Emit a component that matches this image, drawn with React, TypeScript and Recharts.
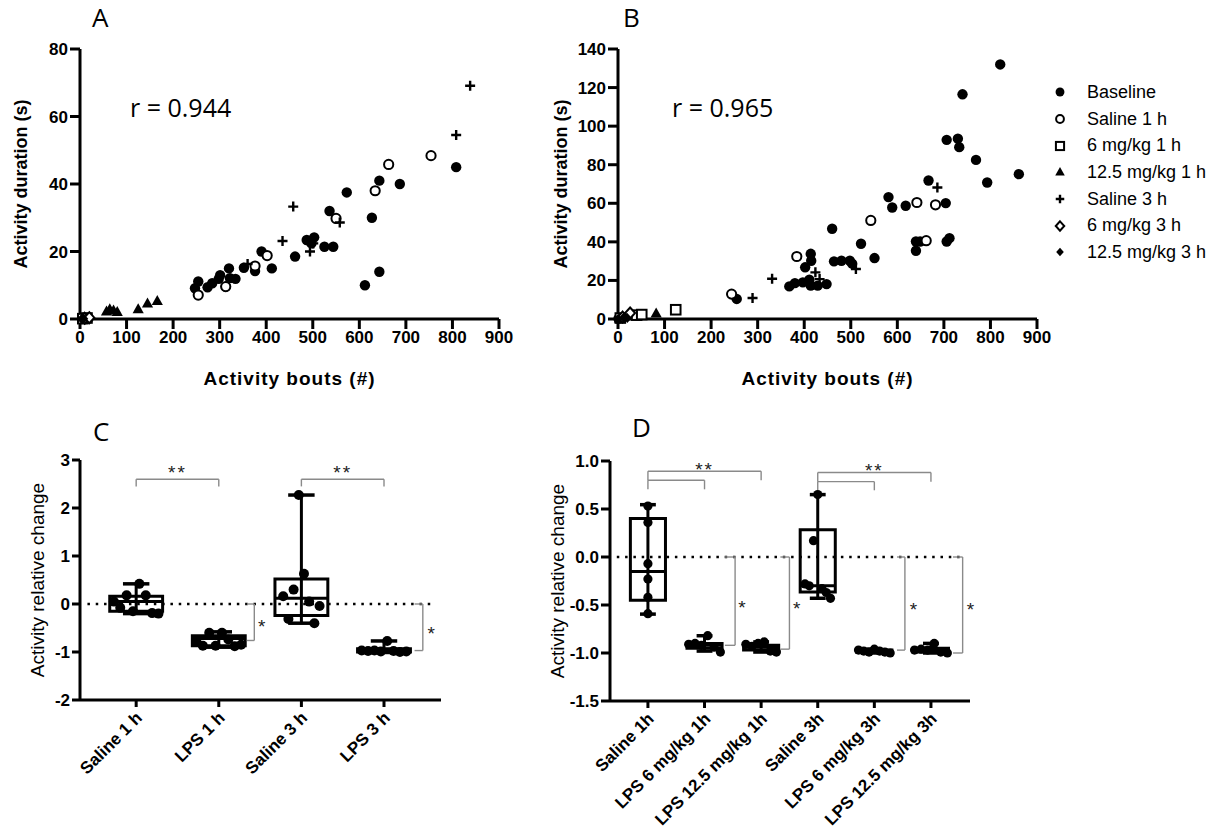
import {
  ScatterChart,
  Scatter,
  XAxis,
  YAxis,
  ReferenceLine,
  ReferenceArea,
  ReferenceDot,
  Legend,
  Label,
} from 'recharts'

type Pair = [number, number]

const FONT = '"Liberation Sans", Arial, sans-serif'
const PANEL_FONT = '"Open Sans", "Noto Sans", sans-serif'
const GREY = '#8a8a8a'

// series shown in A and B (and in the legend)
const groupNames = ['Baseline', 'Saline 1 h', '6 mg/kg 1 h', '12.5 mg/kg 1 h', 'Saline 3 h', '6 mg/kg 3 h', '12.5 mg/kg 3 h']
const groupMarks = ['dot', 'ring', 'square', 'triangle', 'plus', 'diamondOpen', 'diamond']

// panel A: [activity bouts, activity duration]
const aBaseline: Pair[] = [
  [4, 0], [11, 0], [18, 0.2], [247, 9.1], [254, 11.1], [274, 9.4], [284, 10.6], [298, 11.9],
  [301, 13], [313, 9.6], [320, 15], [322, 12.1], [334, 11.9], [352, 15.2], [376, 14.2], [390, 20],
  [412, 15], [462, 18.5], [487, 23.4], [497, 22.4], [503, 24.2], [525, 21.4], [544, 21.4], [536, 32],
  [573, 37.5], [612, 10], [627, 30], [643, 14], [643, 41], [687, 40], [808, 45],
]
const aSaline1: Pair[] = [[254, 7.1], [313, 9.6], [376, 15.7], [402, 18.8], [550, 29.8], [634, 38], [663, 45.8], [754, 48.4]]
const aMg6h1: Pair[] = [[6, 0.1], [15, 0.3]]
const aMg12h1: Pair[] = [[57, 2.2], [64, 2.9], [72, 2.5], [80, 2.1], [125, 2.9], [145, 4.6], [166, 5.3]]
const aSaline3: Pair[] = [[360, 16.3], [435, 23.1], [458, 33.3], [494, 20], [501, 22.4], [558, 28.6], [808, 54.5], [838, 69.1]]
const aMg6h3: Pair[] = [[10, 0.2], [20, 0.4]]
const aMg12h3: Pair[] = [[3, 0], [8, 0.1]]

// panel B
const bBaseline: Pair[] = [
  [1, 0.2], [8, 0.5], [255, 10.4], [368, 16.9], [380, 18.6], [397, 19], [411, 20.4], [414, 17.3],
  [429, 17.3], [448, 18.1], [402, 26.8], [414, 33.8], [415, 30.2], [460, 46.8], [464, 29.9], [480, 30.2],
  [498, 30.2], [503, 28.7], [522, 39], [551, 31.6], [581, 63.2], [589, 57.8], [618, 58.7], [640, 40.2],
  [649, 40.2], [640, 35.4], [667, 71.8], [704, 60.1], [706, 40.2], [712, 41.9], [706, 92.9], [730, 93.5],
  [733, 89.1], [740, 116.5], [769, 82.5], [793, 70.8], [821, 132], [861, 75.1],
]
const bSaline1: Pair[] = [[244, 12.9], [384, 32.4], [543, 51.1], [642, 60.4], [662, 40.6], [682, 59.2]]
const bMg6h1: Pair[] = [[5, 0.5], [40, 2], [51, 2.3], [124, 4.8]]
const bMg12h1: Pair[] = [[3, 0.3], [82, 2.8]]
const bSaline3: Pair[] = [[289, 10.9], [331, 20.9], [424, 24.2], [433, 20.7], [511, 25.9], [686, 68.2]]
const bMg6h3: Pair[] = [[10, 1], [26, 3.1]]
const bMg12h3: Pair[] = [[0, 0], [12, 0.8], [20, 0.5]]

const aSeries = [aBaseline, aSaline1, aMg6h1, aMg12h1, aSaline3, aMg6h3, aMg12h3]
const bSeries = [bBaseline, bSaline1, bMg6h1, bMg12h1, bSaline3, bMg6h3, bMg12h3]

const boutTicks = [0, 100, 200, 300, 400, 500, 600, 700, 800, 900]
const aYTicks = [0, 20, 40, 60, 80]
const bYTicks = [0, 20, 40, 60, 80, 100, 120, 140]

// panel C: relative change per group
const cCategories = ['Saline 1 h', 'LPS 1 h', 'Saline 3 h', 'LPS 3 h']
const cValues = [
  [0.05, -0.08, 0.18, -0.15, 0.42, 0.18, -0.19, -0.2],
  [-0.78, -0.87, -0.6, -0.87, -0.6, -0.74, -0.88, -0.85],
  [0.16, -0.31, 0.3, 2.27, 0.63, 0.05, -0.4, -0.04],
  [-0.97, -0.98, -0.97, -0.99, -0.77, -0.98, -1.0, -0.99],
]
const cMin = [-0.2, -0.9, -0.4, -1.01]
const cQ1 = [-0.15, -0.87, -0.24, -1.0]
const cMedian = [0.05, -0.72, 0.12, -0.97]
const cQ3 = [0.16, -0.66, 0.52, -0.93]
const cMax = [0.42, -0.58, 2.27, -0.77]
const cYTicks = [-2, -1, 0, 1, 2, 3]

// panel D
const dCategories = ['Saline 1h', 'LPS 6 mg/kg 1h', 'LPS 12.5 mg/kg 1h', 'Saline 3h', 'LPS 6 mg/kg 3h', 'LPS 12.5 mg/kg 3h']
const dValues = [
  [0.53, 0.36, -0.07, -0.23, -0.42, -0.59],
  [-0.91, -0.9, -0.92, -0.82, -0.94, -0.99],
  [-0.91, -0.93, -0.9, -0.885, -0.98, -0.99],
  [-0.28, -0.3, 0.17, 0.65, -0.33, -0.37, -0.43],
  [-0.97, -0.98, -0.99, -0.96, -0.98, -0.99, -1.0],
  [-0.97, -0.96, -0.97, -0.9, -0.99, -1.0],
]
const dMin = [-0.595, -0.98, -0.99, -0.43, -1.0, -1.0]
const dQ1 = [-0.45, -0.95, -0.97, -0.365, -0.99, -0.99]
const dMedian = [-0.15, -0.92, -0.94, -0.3, -0.98, -0.97]
const dQ3 = [0.4, -0.9, -0.92, 0.285, -0.97, -0.95]
const dMax = [0.545, -0.82, -0.885, 0.65, -0.96, -0.9]
const dYTicks = [-1.5, -1, -0.5, 0, 0.5, 1]

// significance annotations
const cPairs = [
  { from: 0, to: 1, y: 2.6, leftEnd: 2.45, rightEnd: 2.45 },
  { from: 2, to: 3, y: 2.6, leftEnd: 2.45, rightEnd: 2.45 },
]
const cSides = [
  { x1: 1.34, x2: 1.43, bottom: -0.76 },
  { x1: 3.37, x2: 3.47, bottom: -0.97 },
]
const cStars = [
  { x: 0.5, y: 2.74, text: '**' },
  { x: 2.5, y: 2.74, text: '**' },
  { x: 1.52, y: -0.47, text: '*' },
  { x: 3.57, y: -0.61, text: '*' },
]
const dPairs = [
  { from: 0, to: 2, y: 0.893, leftEnd: 0.8, rightEnd: 0.8 },
  { from: 0, to: 1, y: 0.8, leftEnd: 0.705, rightEnd: 0.705 },
  { from: 3, to: 5, y: 0.88, leftEnd: 0.785, rightEnd: 0.785 },
  { from: 3, to: 4, y: 0.785, leftEnd: 0.695, rightEnd: 0.695 },
]
const dSides = [
  { x1: 1.36, x2: 1.54, bottom: -0.92 },
  { x1: 2.34, x2: 2.5, bottom: -0.96 },
  { x1: 4.4, x2: 4.54, bottom: -0.97 },
  { x1: 5.39, x2: 5.56, bottom: -1.0 },
]
const dStars = [
  { x: 1.0, y: 0.915, text: '**' },
  { x: 4.0, y: 0.905, text: '**' },
  { x: 1.66, y: -0.52, text: '*' },
  { x: 2.63, y: -0.53, text: '*' },
  { x: 4.69, y: -0.54, text: '*' },
  { x: 5.7, y: -0.54, text: '*' },
]

const cSpread = [0.27, 0.27, 0.22, 0.27]
const dSpread = [0, 0.28, 0.27, 0.225, 0.28, 0.29]

const axisLine = { stroke: '#000', strokeWidth: 3 }
const tickStyle = { fill: '#000', fontSize: 17, fontWeight: 700, fontFamily: FONT }

function marker(kind: string, cx: number, cy: number, k = 1) {
  switch (kind) {
    case 'dot':
      return <circle cx={cx} cy={cy} r={5.2 * k} fill="#000" />
    case 'ring':
      return <circle cx={cx} cy={cy} r={4.6 * k} fill="#fff" stroke="#000" strokeWidth={2} />
    case 'square':
      return <rect x={cx - 4.8 * k} y={cy - 4.8 * k} width={9.6 * k} height={9.6 * k} fill="#fff" stroke="#000" strokeWidth={2} />
    case 'triangle':
      return <polygon points={`${cx},${cy - 6 * k} ${cx - 5.6 * k},${cy + 4 * k} ${cx + 5.6 * k},${cy + 4 * k}`} fill="#000" />
    case 'plus':
      return <path d={`M${cx - 5 * k},${cy}H${cx + 5 * k}M${cx},${cy - 5 * k}V${cy + 5 * k}`} stroke="#000" strokeWidth={2.4} />
    case 'diamondOpen':
      return <polygon points={`${cx},${cy - 5.5 * k} ${cx + 5 * k},${cy} ${cx},${cy + 5.5 * k} ${cx - 5 * k},${cy}`} fill="#fff" stroke="#000" strokeWidth={2} />
    default:
      return <polygon points={`${cx},${cy - 5 * k} ${cx + 4.5 * k},${cy} ${cx},${cy + 5 * k} ${cx - 4.5 * k},${cy}`} fill="#000" />
  }
}

const shapeFor = (kind: string) => (p: any) => marker(kind, p.cx, p.cy)
const boxDot = (r: number) => (p: any) => <circle cx={p.cx} cy={p.cy} r={r} fill="#000" />

const toPoints = (arr: Pair[]) => arr.map(([x, y]) => ({ x, y }))

function jittered(values: number[][], spread: number[]) {
  const out: { x: number; y: number }[] = []
  values.forEach((vals, i) => {
    const n = vals.length
    vals.forEach((v, j) => {
      const off = n > 1 ? (j / (n - 1) - 0.5) * 2 * spread[i] : 0
      out.push({ x: i + off, y: v })
    })
  })
  return out
}

const vTitle = (text: string, x: number, size: number, weight: number) => (props: any) => {
  const vb = props.viewBox || { y: 0, height: 0 }
  const cy = vb.y + vb.height / 2
  return (
    <text x={x} y={cy} transform={`rotate(-90 ${x} ${cy})`} textAnchor="middle" dominantBaseline="central"
      fontSize={size} fontWeight={weight} fontFamily={FONT} fill="#000">
      {text}
    </text>
  )
}

const hTitle = (text: string, dy: number) => (props: any) => {
  const vb = props.viewBox || { x: 0, y: 0, width: 0 }
  return (
    <text x={vb.x + vb.width / 2} y={vb.y + dy} textAnchor="middle" fontSize={19} fontWeight={700}
      letterSpacing={1} fontFamily={FONT} fill="#000">
      {text}
    </text>
  )
}

const rotTick = (labels: string[]) => (props: any) => {
  const { x, y, payload } = props
  return (
    <g transform={`translate(${x + 7},${y + 10})`}>
      <text x={0} y={0} textAnchor="end" transform="rotate(-45)" fontSize={17} fontWeight={700} fontFamily={FONT} fill="#000">
        {labels[payload.value]}
      </text>
    </g>
  )
}

function boxPlot(i: number, min: number, q1: number, med: number, q3: number, max: number, half: number, cap: number) {
  const k = `box${i}`
  return [
    <ReferenceLine key={k + 'w'} segment={[{ x: i, y: min }, { x: i, y: max }]} stroke="#000" strokeWidth={3} />,
    <ReferenceArea key={k + 'b'} x1={i - half} x2={i + half} y1={q1} y2={q3} fill="#fff" fillOpacity={1} stroke="#000" strokeWidth={3} />,
    <ReferenceLine key={k + 'm'} segment={[{ x: i - half, y: med }, { x: i + half, y: med }]} stroke="#000" strokeWidth={3} />,
    <ReferenceLine key={k + 'c1'} segment={[{ x: i - cap, y: max }, { x: i + cap, y: max }]} stroke="#000" strokeWidth={3.5} />,
    <ReferenceLine key={k + 'c2'} segment={[{ x: i - cap, y: min }, { x: i + cap, y: min }]} stroke="#000" strokeWidth={3.5} />,
  ]
}

function pairBracket(b: { from: number; to: number; y: number; leftEnd: number; rightEnd: number }, key: string) {
  return [
    <ReferenceLine key={key + 'h'} segment={[{ x: b.from, y: b.y }, { x: b.to, y: b.y }]} stroke={GREY} strokeWidth={1.4} />,
    <ReferenceLine key={key + 'l'} segment={[{ x: b.from, y: b.y }, { x: b.from, y: b.leftEnd }]} stroke={GREY} strokeWidth={1.4} />,
    <ReferenceLine key={key + 'r'} segment={[{ x: b.to, y: b.y }, { x: b.to, y: b.rightEnd }]} stroke={GREY} strokeWidth={1.4} />,
  ]
}

function sideBracket(b: { x1: number; x2: number; bottom: number }, key: string) {
  return [
    <ReferenceLine key={key + 't'} segment={[{ x: b.x1, y: 0 }, { x: b.x2, y: 0 }]} stroke={GREY} strokeWidth={1.4} />,
    <ReferenceLine key={key + 'v'} segment={[{ x: b.x2, y: 0 }, { x: b.x2, y: b.bottom }]} stroke={GREY} strokeWidth={1.4} />,
    <ReferenceLine key={key + 'b'} segment={[{ x: b.x1, y: b.bottom }, { x: b.x2, y: b.bottom }]} stroke={GREY} strokeWidth={1.4} />,
  ]
}

function stars(list: { x: number; y: number; text: string }[], key: string) {
  return list.map((s, i) => (
    <ReferenceDot key={key + i} x={s.x} y={s.y} r={0} fill="none" stroke="none" ifOverflow="visible"
      label={{ value: s.text, position: 'center', fill: '#222', fontSize: 19, fontFamily: FONT, letterSpacing: s.text.length > 1 ? 2 : 0 }} />
  ))
}

const legendContent = () => (
  <div style={{ fontFamily: FONT, fontSize: 18, color: '#000' }}>
    {groupNames.map((g, i) => (
      <div key={g} style={{ display: 'flex', alignItems: 'center', height: 26.7 }}>
        <svg width={20} height={20} style={{ marginRight: 17 }}>
          {marker(groupMarks[i], 10, 10, 0.85)}
        </svg>
        <span>{g}</span>
      </div>
    ))}
  </div>
)

function BoutsChart({ series, yTicks, yMax, width, yWidth, right, legend }: any) {
  return (
    <ScatterChart width={width} height={400} margin={{ top: 49, right, bottom: 0, left: 0 }}>
      <XAxis type="number" dataKey="x" domain={[0, 900]} ticks={boutTicks} interval={0} height={81}
        tickSize={10} axisLine={axisLine} tickLine={axisLine} tick={tickStyle}>
        <Label content={hTitle('Activity bouts (#)', 66)} />
      </XAxis>
      <YAxis type="number" dataKey="y" domain={[0, yMax]} ticks={yTicks} interval={0} width={yWidth}
        tickSize={10} axisLine={axisLine} tickLine={axisLine} tick={tickStyle}>
        <Label content={vTitle('Activity duration (s)', 21, 18, 700)} />
      </YAxis>
      {series.map((s: Pair[], i: number) => (
        <Scatter key={groupNames[i]} name={groupNames[i]} data={toPoints(s)} shape={shapeFor(groupMarks[i])} isAnimationActive={false} />
      ))}
      {legend && (
        <Legend layout="vertical" align="center" verticalAlign="middle" content={legendContent}
          wrapperStyle={{ left: 510, top: 79, width: 176 }} />
      )}
    </ScatterChart>
  )
}

export default function App() {
  const cPoints = jittered(cValues, cSpread)
  const dPoints = jittered(dValues, dSpread)
  const panelText = { fontFamily: PANEL_FONT, fill: '#000' }
  return (
    <div style={{ position: 'absolute', left: 0, top: 0, width: 1226, height: 837, background: '#fff' }}>
      <div style={{ position: 'absolute', left: 0, top: 0 }}>
        <BoutsChart series={aSeries} yTicks={aYTicks} yMax={80} width={520} yWidth={80} right={21} />
      </div>
      <div style={{ position: 'absolute', left: 540, top: 0 }}>
        <BoutsChart series={bSeries} yTicks={bYTicks} yMax={140} width={686} yWidth={78} right={189} legend />
      </div>

      <div style={{ position: 'absolute', left: 0, top: 420 }}>
        <ScatterChart width={460} height={417} margin={{ top: 40, right: 19, bottom: 0, left: 0 }}>
          <XAxis type="number" dataKey="x" domain={[-0.68, 3.69]} ticks={[0, 1, 2, 3]} interval={0} height={137}
            tickSize={7} axisLine={axisLine} tickLine={axisLine} tick={rotTick(cCategories)} />
          <YAxis type="number" dataKey="y" domain={[-2, 3]} ticks={cYTicks} interval={0} width={80}
            tickSize={8} axisLine={axisLine} tickLine={axisLine} tick={tickStyle}>
            <Label content={vTitle('Activity relative change', 37, 19, 400)} />
          </YAxis>
          <ReferenceLine segment={[{ x: -0.59, y: 0 }, { x: 3.59, y: 0 }]} stroke="#000" strokeWidth={2.5} strokeDasharray="2.5 5.8" />
          {cCategories.map((_, i) => boxPlot(i, cMin[i], cQ1[i], cMedian[i], cQ3[i], cMax[i], 0.32, 0.16))}
          {cPairs.map((b, i) => pairBracket(b, 'cp' + i))}
          {cSides.map((b, i) => sideBracket(b, 'cs' + i))}
          {stars(cStars, 'cst')}
          <Scatter data={cPoints} shape={boxDot(5)} isAnimationActive={false} />
        </ScatterChart>
      </div>

      <div style={{ position: 'absolute', left: 540, top: 420 }}>
        <ScatterChart width={440} height={417} margin={{ top: 41, right: 10, bottom: 0, left: 0 }}>
          <XAxis type="number" dataKey="x" domain={[-0.67, 5.69]} ticks={[0, 1, 2, 3, 4, 5]} interval={0} height={136}
            tickSize={7} axisLine={axisLine} tickLine={axisLine} tick={rotTick(dCategories)} />
          <YAxis type="number" dataKey="y" domain={[-1.5, 1]} ticks={dYTicks} interval={0} width={70}
            tickSize={9} axisLine={axisLine} tickLine={axisLine} tick={tickStyle} tickFormatter={(v: number) => v.toFixed(1)}>
            <Label content={vTitle('Activity relative change', 17, 19, 400)} />
          </YAxis>
          <ReferenceLine segment={[{ x: -0.55, y: 0 }, { x: 5.56, y: 0 }]} stroke="#000" strokeWidth={2.5} strokeDasharray="2.5 5.8" />
          {dCategories.map((_, i) => boxPlot(i, dMin[i], dQ1[i], dMedian[i], dQ3[i], dMax[i], 0.31, 0.14))}
          {dPairs.map((b, i) => pairBracket(b, 'dp' + i))}
          {dSides.map((b, i) => sideBracket(b, 'ds' + i))}
          {stars(dStars, 'dst')}
          <Scatter data={dPoints} shape={boxDot(4.6)} isAnimationActive={false} />
        </ScatterChart>
      </div>

      <svg width={1226} height={837} style={{ position: 'absolute', left: 0, top: 0, pointerEvents: 'none' }}>
        <text x={92} y={27} fontSize={26} {...panelText}>A</text>
        <text x={623} y={27} fontSize={26} {...panelText}>B</text>
        <text x={93} y={441} fontSize={26} {...panelText}>C</text>
        <text x={632} y={437} fontSize={26} {...panelText}>D</text>
        <text x={130} y={117} fontSize={25} {...panelText}>r = 0.944</text>
        <text x={672} y={117} fontSize={25} {...panelText}>r = 0.965</text>
      </svg>
    </div>
  )
}
